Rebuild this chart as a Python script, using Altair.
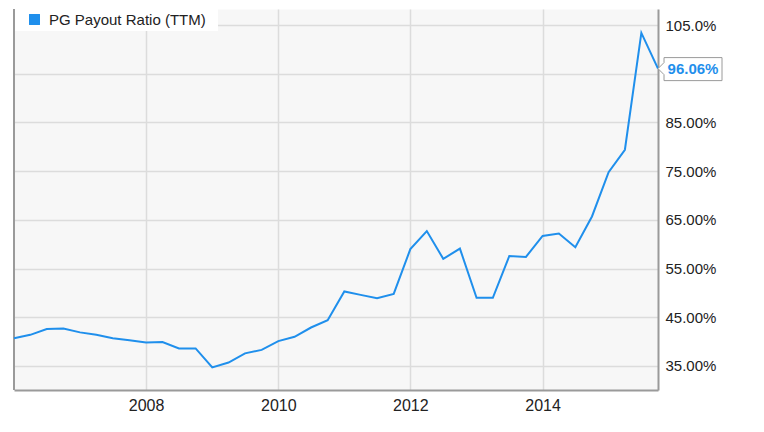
import altair as alt
import pandas as pd

# ---- data (quarterly) ----
dates = [
    "2006-01-01", "2006-04-01", "2006-07-01", "2006-10-01",
    "2007-01-01", "2007-04-01", "2007-07-01", "2007-10-01",
    "2008-01-01", "2008-04-01", "2008-07-01", "2008-10-01",
    "2009-01-01", "2009-04-01", "2009-07-01", "2009-10-01",
    "2010-01-01", "2010-04-01", "2010-07-01", "2010-10-01",
    "2011-01-01", "2011-04-01", "2011-07-01", "2011-10-01",
    "2012-01-01", "2012-04-01", "2012-07-01", "2012-10-01",
    "2013-01-01", "2013-04-01", "2013-07-01", "2013-10-01",
    "2014-01-01", "2014-04-01", "2014-07-01", "2014-10-01",
    "2015-01-01", "2015-04-01", "2015-07-01", "2015-10-01",
]
ratio = [
    40.7, 41.4, 42.6, 42.7,
    41.9, 41.4, 40.7, 40.3,
    39.8, 39.9, 38.6, 38.6,
    34.7, 35.7, 37.6, 38.3,
    40.1, 41.0, 42.9, 44.4,
    50.3, 49.6, 48.9, 49.8,
    59.0, 62.7, 57.0, 59.1,
    49.0, 49.0, 57.6, 57.4,
    61.7, 62.2, 59.4, 65.7,
    74.8, 79.4, 103.4, 96.06,
]
series_name = "PG Payout Ratio (TTM)"
y_ticks = [35, 45, 55, 65, 75, 85, 95, 105]
x_tick_years = [2008, 2010, 2012, 2014]

BLUE = "#1f8fec"
FONT = "Liberation Sans"
GRID = "#dcdcdc"
BORDER = "#9a9a9a"
TEXT = "#222222"


def to_dt(s):
    y, m, d = map(int, s.split("-"))
    return alt.DateTime(year=y, month=m, date=d, utc=True)


df = pd.DataFrame({"date": dates, "ratio": ratio, "series": series_name})
last = df.tail(1)

x_enc = alt.X(
    "date:T",
    scale=alt.Scale(type="utc", domain=[to_dt(dates[0]), to_dt(dates[-1])]),
    axis=alt.Axis(
        title=None,
        values=[alt.DateTime(year=y, month=1, date=1, utc=True) for y in x_tick_years],
        format="%Y",
        grid=True,
        gridColor=GRID,
        gridWidth=1.5,
        ticks=False,
        domainColor=BORDER,
        domainWidth=2,
        labelFont=FONT,
        labelFontSize=16,
        labelColor=TEXT,
        labelPadding=7,
    ),
)
y_enc = alt.Y(
    "ratio:Q",
    scale=alt.Scale(domain=[30.07, 108.3], nice=False, zero=False),
    axis=alt.Axis(
        title=None,
        orient="right",
        values=y_ticks,
        labelExpr="datum.value == 95 ? '' : format(datum.value, '.4r') + '%'",
        grid=True,
        gridColor=GRID,
        gridWidth=1.5,
        ticks=False,
        domainColor=BORDER,
        domainWidth=2,
        labelFont=FONT,
        labelFontSize=15,
        labelColor=TEXT,
        labelPadding=7,
    ),
)

one = pd.DataFrame({"a": [0]})

legend_bg = alt.Chart(one).mark_rect(color="white").encode(
    x=alt.value(0), x2=alt.value(204), y=alt.value(0), y2=alt.value(22)
)
left_border = alt.Chart(one).mark_rule(color=BORDER, strokeWidth=2).encode(
    x=alt.value(0), y=alt.value(0), y2=alt.value(381)
)

line = alt.Chart(df).mark_line(strokeWidth=2).encode(
    x=x_enc,
    y=y_enc,
    color=alt.Color(
        "series:N",
        scale=alt.Scale(domain=[series_name], range=[BLUE]),
        legend=alt.Legend(
            title=None,
            orient="none",
            legendX=13,
            legendY=3,
            padding=0,
            symbolType="square",
            symbolSize=120,
            symbolFillColor=BLUE,
            symbolStrokeColor=BLUE,
            symbolStrokeWidth=0,
            labelFont=FONT,
            labelFontSize=15,
            labelColor=TEXT,
            labelOffset=7,
        ),
    ),
)

CALLOUT = "M0,0L0.094,-0.094L0.094,-0.172L1,-0.172L1,0.1875L0.094,0.1875L0.094,0.094Z"
callout_box = alt.Chart(last).mark_point(
    shape=CALLOUT, size=16384, filled=True, fill="white", stroke=BORDER,
    strokeWidth=1, opacity=1
).encode(x="date:T", y="ratio:Q")

callout_text = alt.Chart(last).transform_calculate(
    label="format(datum.ratio, '.2f') + '%'"
).mark_text(
    dx=35, align="center", baseline="middle", font=FONT, fontSize=15,
    fontWeight="bold", color=BLUE
).encode(x="date:T", y="ratio:Q", text="label:N")

chart = alt.layer(legend_bg, left_border, line, callout_box, callout_text).properties(
    width=644,
    height=381,
    padding={"left": 2, "top": 0, "right": 5, "bottom": 5},
    background="white",
).configure_view(fill="#f7f7f7", stroke="transparent")

chart.save("out.html", embed_options={"renderer": "svg", "actions": False})
